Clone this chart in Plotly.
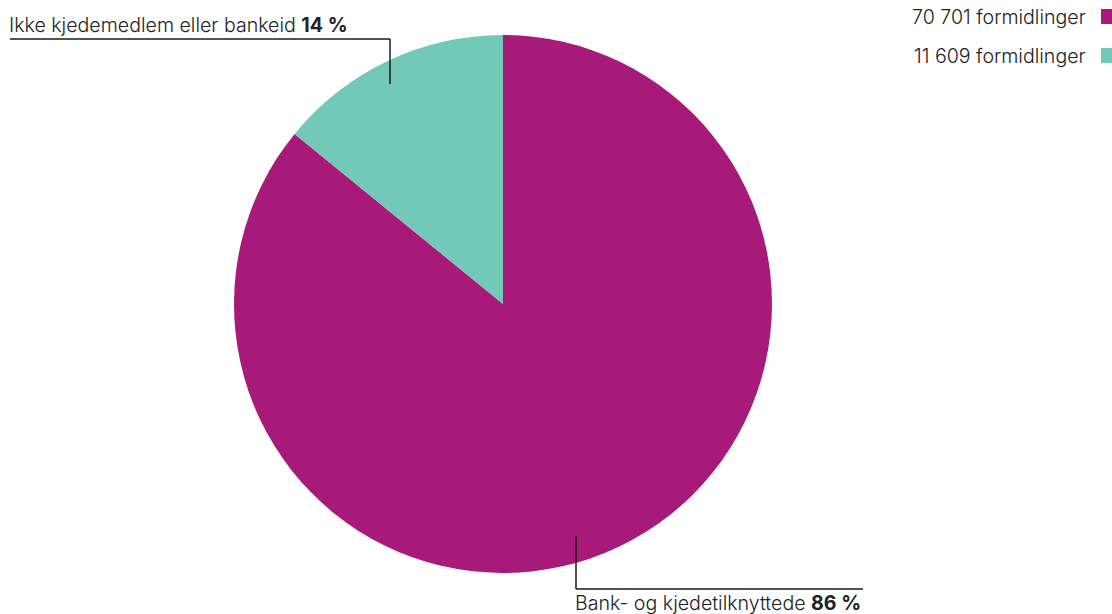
import plotly.graph_objects as go

W, H = 1112, 614

categories = ["Bank- og kjedetilknyttede", "Ikke kjedemedlem eller bankeid"]
values = [70701, 11609]
legend_labels = ["70 701 formidlinger", "11 609 formidlinger"]
colors = ["#A71A79", "#73C9B7"]

total = sum(values)
pcts = [round(v / total * 100) for v in values]

def px(x):
    return x / W

def py(y):
    return 1 - y / H

FONT = "Inter"
TXT = "#222222"
FS = 19.6

fig = go.Figure(go.Pie(
    labels=categories,
    values=values,
    marker=dict(colors=colors, line=dict(width=0)),
    sort=False,
    direction="clockwise",
    rotation=0,
    textinfo="none",
    hoverinfo="label+value+percent",
    domain=dict(x=[px(234), px(772)], y=[py(573), py(35)]),
    showlegend=False,
))

shapes = []
annotations = []
line_style = dict(color="#1a1a1a", width=1.5)

# Leader for teal slice (top-left)
shapes.append(dict(type="line", xref="paper", yref="paper",
                   x0=px(10), y0=py(39), x1=px(390), y1=py(39), line=line_style))
shapes.append(dict(type="line", xref="paper", yref="paper",
                   x0=px(390), y0=py(39), x1=px(390), y1=py(84), line=line_style))
annotations.append(dict(xref="paper", yref="paper", x=px(7), y=py(25),
                        xanchor="left", yanchor="middle", showarrow=False,
                        text=f"{categories[1]} <b>{pcts[1]} %</b>",
                        font=dict(family=FONT, size=FS, color=TXT, weight=300)))

# Leader for magenta slice (bottom)
shapes.append(dict(type="line", xref="paper", yref="paper",
                   x0=px(576), y0=py(536), x1=px(576), y1=py(589), line=line_style))
shapes.append(dict(type="line", xref="paper", yref="paper",
                   x0=px(576), y0=py(589), x1=px(863), y1=py(589), line=line_style))
annotations.append(dict(xref="paper", yref="paper", x=px(573), y=py(603),
                        xanchor="left", yanchor="middle", showarrow=False,
                        text=f"{categories[0]} <b>{pcts[0]} %</b>",
                        font=dict(family=FONT, size=FS, color=TXT, weight=300)))

# Custom legend (text left of swatch)
leg_y = [17, 56]
for lbl, col, yy in zip(legend_labels, colors, leg_y):
    shapes.append(dict(type="rect", xref="paper", yref="paper",
                       x0=px(1101), x1=px(1115), y0=py(yy - 8), y1=py(yy + 7),
                       fillcolor=col, line=dict(width=0)))
    annotations.append(dict(xref="paper", yref="paper", x=px(1088), y=py(yy),
                            xanchor="right", yanchor="middle", showarrow=False,
                            text=lbl, font=dict(family=FONT, size=FS, color=TXT, weight=300)))

fig.update_layout(
    width=W, height=H,
    margin=dict(l=0, r=0, t=0, b=0),
    paper_bgcolor="white",
    plot_bgcolor="white",
    shapes=shapes,
    annotations=annotations,
)

fig.write_html("out.html",
               config={"displayModeBar": False},
               post_script="document.body.style.margin='0';document.body.style.overflow='hidden';")
